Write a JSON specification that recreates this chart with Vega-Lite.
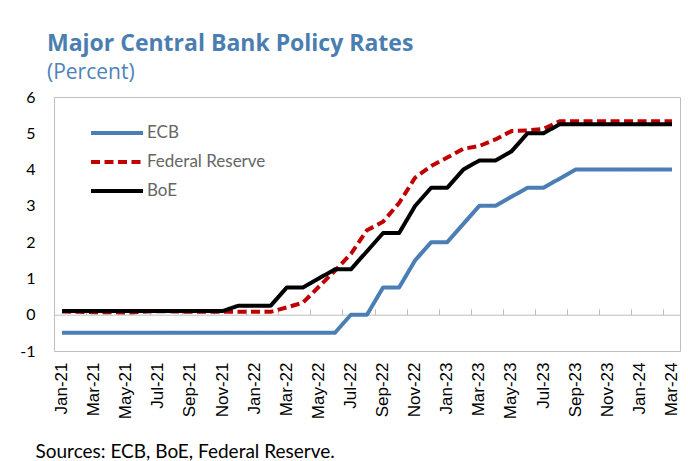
{
  "$schema": "https://vega.github.io/schema/vega-lite/v6.json",
  "width": 626,
  "height": 254,
  "autosize": {"type": "none"},
  "padding": {"left": 54, "top": 97, "right": 8, "bottom": 110},
  "background": "white",
  "config": {"view": {"stroke": "#BFBFBF", "strokeWidth": 1}, "font": "Lato"},
  "title": {
    "text": "Major Central Bank Policy Rates",
    "subtitle": "(Percent)",
    "anchor": "start",
    "frame": "group",
    "font": "Open Sans",
    "fontSize": 23,
    "fontWeight": "bold",
    "color": "#4A7EB0",
    "subtitleFont": "Open Sans",
    "subtitleFontSize": 21,
    "subtitleColor": "#4E83B8",
    "subtitlePadding": 6,
    "offset": 6,
    "dx": -7
  },
  "datasets": {
    "rates": [
      {"month":"Jan-21","bank":"ECB","rate":-0.5},{"month":"Feb-21","bank":"ECB","rate":-0.5},{"month":"Mar-21","bank":"ECB","rate":-0.5},{"month":"Apr-21","bank":"ECB","rate":-0.5},{"month":"May-21","bank":"ECB","rate":-0.5},{"month":"Jun-21","bank":"ECB","rate":-0.5},{"month":"Jul-21","bank":"ECB","rate":-0.5},{"month":"Aug-21","bank":"ECB","rate":-0.5},{"month":"Sep-21","bank":"ECB","rate":-0.5},{"month":"Oct-21","bank":"ECB","rate":-0.5},{"month":"Nov-21","bank":"ECB","rate":-0.5},{"month":"Dec-21","bank":"ECB","rate":-0.5},{"month":"Jan-22","bank":"ECB","rate":-0.5},{"month":"Feb-22","bank":"ECB","rate":-0.5},{"month":"Mar-22","bank":"ECB","rate":-0.5},{"month":"Apr-22","bank":"ECB","rate":-0.5},{"month":"May-22","bank":"ECB","rate":-0.5},{"month":"Jun-22","bank":"ECB","rate":-0.5},{"month":"Jul-22","bank":"ECB","rate":0},{"month":"Aug-22","bank":"ECB","rate":0},{"month":"Sep-22","bank":"ECB","rate":0.75},{"month":"Oct-22","bank":"ECB","rate":0.75},{"month":"Nov-22","bank":"ECB","rate":1.5},{"month":"Dec-22","bank":"ECB","rate":2.0},{"month":"Jan-23","bank":"ECB","rate":2.0},{"month":"Feb-23","bank":"ECB","rate":2.5},{"month":"Mar-23","bank":"ECB","rate":3.0},{"month":"Apr-23","bank":"ECB","rate":3.0},{"month":"May-23","bank":"ECB","rate":3.25},{"month":"Jun-23","bank":"ECB","rate":3.5},{"month":"Jul-23","bank":"ECB","rate":3.5},{"month":"Aug-23","bank":"ECB","rate":3.75},{"month":"Sep-23","bank":"ECB","rate":4.0},{"month":"Oct-23","bank":"ECB","rate":4.0},{"month":"Nov-23","bank":"ECB","rate":4.0},{"month":"Dec-23","bank":"ECB","rate":4.0},{"month":"Jan-24","bank":"ECB","rate":4.0},{"month":"Feb-24","bank":"ECB","rate":4.0},{"month":"Mar-24","bank":"ECB","rate":4.0},
      {"month":"Jan-21","bank":"Federal Reserve","rate":0.09},{"month":"Feb-21","bank":"Federal Reserve","rate":0.08},{"month":"Mar-21","bank":"Federal Reserve","rate":0.07},{"month":"Apr-21","bank":"Federal Reserve","rate":0.07},{"month":"May-21","bank":"Federal Reserve","rate":0.06},{"month":"Jun-21","bank":"Federal Reserve","rate":0.08},{"month":"Jul-21","bank":"Federal Reserve","rate":0.1},{"month":"Aug-21","bank":"Federal Reserve","rate":0.09},{"month":"Sep-21","bank":"Federal Reserve","rate":0.08},{"month":"Oct-21","bank":"Federal Reserve","rate":0.08},{"month":"Nov-21","bank":"Federal Reserve","rate":0.08},{"month":"Dec-21","bank":"Federal Reserve","rate":0.08},{"month":"Jan-22","bank":"Federal Reserve","rate":0.08},{"month":"Feb-22","bank":"Federal Reserve","rate":0.08},{"month":"Mar-22","bank":"Federal Reserve","rate":0.2},{"month":"Apr-22","bank":"Federal Reserve","rate":0.33},{"month":"May-22","bank":"Federal Reserve","rate":0.77},{"month":"Jun-22","bank":"Federal Reserve","rate":1.21},{"month":"Jul-22","bank":"Federal Reserve","rate":1.68},{"month":"Aug-22","bank":"Federal Reserve","rate":2.33},{"month":"Sep-22","bank":"Federal Reserve","rate":2.56},{"month":"Oct-22","bank":"Federal Reserve","rate":3.08},{"month":"Nov-22","bank":"Federal Reserve","rate":3.78},{"month":"Dec-22","bank":"Federal Reserve","rate":4.1},{"month":"Jan-23","bank":"Federal Reserve","rate":4.33},{"month":"Feb-23","bank":"Federal Reserve","rate":4.57},{"month":"Mar-23","bank":"Federal Reserve","rate":4.65},{"month":"Apr-23","bank":"Federal Reserve","rate":4.83},{"month":"May-23","bank":"Federal Reserve","rate":5.06},{"month":"Jun-23","bank":"Federal Reserve","rate":5.08},{"month":"Jul-23","bank":"Federal Reserve","rate":5.12},{"month":"Aug-23","bank":"Federal Reserve","rate":5.33},{"month":"Sep-23","bank":"Federal Reserve","rate":5.33},{"month":"Oct-23","bank":"Federal Reserve","rate":5.33},{"month":"Nov-23","bank":"Federal Reserve","rate":5.33},{"month":"Dec-23","bank":"Federal Reserve","rate":5.33},{"month":"Jan-24","bank":"Federal Reserve","rate":5.33},{"month":"Feb-24","bank":"Federal Reserve","rate":5.33},{"month":"Mar-24","bank":"Federal Reserve","rate":5.33},
      {"month":"Jan-21","bank":"BoE","rate":0.1},{"month":"Feb-21","bank":"BoE","rate":0.1},{"month":"Mar-21","bank":"BoE","rate":0.1},{"month":"Apr-21","bank":"BoE","rate":0.1},{"month":"May-21","bank":"BoE","rate":0.1},{"month":"Jun-21","bank":"BoE","rate":0.1},{"month":"Jul-21","bank":"BoE","rate":0.1},{"month":"Aug-21","bank":"BoE","rate":0.1},{"month":"Sep-21","bank":"BoE","rate":0.1},{"month":"Oct-21","bank":"BoE","rate":0.1},{"month":"Nov-21","bank":"BoE","rate":0.1},{"month":"Dec-21","bank":"BoE","rate":0.25},{"month":"Jan-22","bank":"BoE","rate":0.25},{"month":"Feb-22","bank":"BoE","rate":0.25},{"month":"Mar-22","bank":"BoE","rate":0.75},{"month":"Apr-22","bank":"BoE","rate":0.75},{"month":"May-22","bank":"BoE","rate":1.0},{"month":"Jun-22","bank":"BoE","rate":1.25},{"month":"Jul-22","bank":"BoE","rate":1.25},{"month":"Aug-22","bank":"BoE","rate":1.75},{"month":"Sep-22","bank":"BoE","rate":2.25},{"month":"Oct-22","bank":"BoE","rate":2.25},{"month":"Nov-22","bank":"BoE","rate":3.0},{"month":"Dec-22","bank":"BoE","rate":3.5},{"month":"Jan-23","bank":"BoE","rate":3.5},{"month":"Feb-23","bank":"BoE","rate":4.0},{"month":"Mar-23","bank":"BoE","rate":4.25},{"month":"Apr-23","bank":"BoE","rate":4.25},{"month":"May-23","bank":"BoE","rate":4.5},{"month":"Jun-23","bank":"BoE","rate":5.0},{"month":"Jul-23","bank":"BoE","rate":5.0},{"month":"Aug-23","bank":"BoE","rate":5.25},{"month":"Sep-23","bank":"BoE","rate":5.25},{"month":"Oct-23","bank":"BoE","rate":5.25},{"month":"Nov-23","bank":"BoE","rate":5.25},{"month":"Dec-23","bank":"BoE","rate":5.25},{"month":"Jan-24","bank":"BoE","rate":5.25},{"month":"Feb-24","bank":"BoE","rate":5.25},{"month":"Mar-24","bank":"BoE","rate":5.25}
    ]
  },
  "data": {"name": "rates"},
  "layer": [
    {
      "mark": {"type": "line", "strokeOpacity": 0},
      "encoding": {
        "x": {
          "field": "month", "type": "ordinal", "sort": null,
          "scale": {"type": "band", "paddingInner": 0, "paddingOuter": 0},
          "axis": {
            "orient": "top",
            "values": ["Jan-21","Mar-21","May-21","Jul-21","Sep-21","Nov-21","Jan-22","Mar-22","May-22","Jul-22","Sep-22","Nov-22","Jan-23","Mar-23","May-23","Jul-23","Sep-23","Nov-23","Jan-24","Mar-24"],
            "bandPosition": 0,
            "offset": -217.7,
            "labels": false,
            "title": null,
            "grid": false,
            "domain": true,
            "domainColor": "#BFBFBF",
            "domainWidth": 1,
            "ticks": true,
            "tickColor": "#BFBFBF",
            "tickWidth": 1,
            "tickSize": 6
          }
        },
        "y": {
          "datum": 0, "type": "quantitative",
          "scale": {"domain": [-1, 6], "nice": false, "zero": false},
          "axis": {
            "values": [-1, 0, 1, 2, 3, 4, 5, 6],
            "domain": false,
            "ticks": false,
            "grid": false,
            "labelFont": "Lato",
            "labelFontSize": 16,
            "labelColor": "#000000",
            "labelPadding": 19,
            "labelExpr": "datum.value + ''",
            "title": null
          }
        }
      }
    },
    {
      "mark": {"type": "line", "strokeWidth": 4, "strokeJoin": "round"},
      "encoding": {
        "x": {
          "field": "month", "type": "ordinal", "sort": null,
          "scale": {"type": "band", "paddingInner": 0, "paddingOuter": 0},
          "axis": {
            "orient": "bottom",
            "values": ["Jan-21","Mar-21","May-21","Jul-21","Sep-21","Nov-21","Jan-22","Mar-22","May-22","Jul-22","Sep-22","Nov-22","Jan-23","Mar-23","May-23","Jul-23","Sep-23","Nov-23","Jan-24","Mar-24"],
            "domain": false,
            "ticks": false,
            "grid": false,
            "labelAngle": -90,
            "labelFont": "Liberation Sans",
            "labelFontSize": 17,
            "labelColor": "#000000",
            "labelPadding": 11,
            "labelOverlap": false,
            "labelBound": false,
            "title": "Sources: ECB, BoE, Federal Reserve.",
            "titleFont": "Lato",
            "titleFontSize": 19,
            "titleFontWeight": "normal",
            "titleColor": "#000000",
            "titleAnchor": "start",
            "titleAlign": "left",
            "titleBaseline": "alphabetic",
            "titleX": -19,
            "titleY": 106
          }
        },
        "y": {
          "field": "rate", "type": "quantitative",
          "scale": {"domain": [-1, 6], "nice": false, "zero": false},
          "axis": {
            "values": [-1, 0, 1, 2, 3, 4, 5, 6],
            "domain": false,
            "ticks": false,
            "grid": false,
            "labelFont": "Lato",
            "labelFontSize": 16,
            "labelColor": "#000000",
            "labelPadding": 19,
            "labelExpr": "datum.value + ''",
            "title": null
          }
        },
        "color": {
          "field": "bank", "type": "nominal",
          "scale": {"domain": ["ECB", "Federal Reserve", "BoE"], "range": ["#4A7EB4", "#C00000", "#000000"]},
          "legend": {
            "orient": "none",
            "legendX": 51,
            "legendY": 24,
            "title": null,
            "padding": 0,
            "symbolType": "M-2.6,0H2.6",
            "symbolSize": 400,
            "symbolStrokeWidth": 4,
            "labelOffset": 18,
            "labelFont": "Lato",
            "labelFontSize": 17,
            "labelColor": "#666666",
            "rowPadding": 9
          }
        },
        "strokeDash": {
          "field": "bank", "type": "nominal",
          "scale": {"domain": ["ECB", "Federal Reserve", "BoE"], "range": [[1, 0], [9, 4.5], [1, 0]]}
        }
      }
    }
  ],
  "resolve": {"axis": {"x": "independent"}}
}
